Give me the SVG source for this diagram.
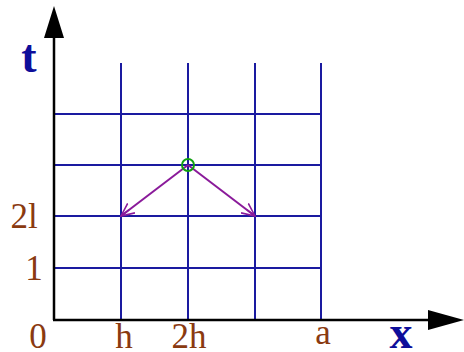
<svg xmlns="http://www.w3.org/2000/svg" width="464" height="352" viewBox="0 0 464 352">
<style>
.grid{stroke:#1a1aa0;stroke-width:2;fill:none}
.axis{stroke:#000;stroke-width:2.5;fill:none}
.arr{stroke:#8a1a9a;stroke-width:2;fill:none}
.lab{font-family:"Liberation Serif",serif;fill:#8a3a10;font-size:35px}
.var{font-family:"Liberation Serif",serif;fill:#0e0e9a;font-size:46px;font-weight:bold}
</style>
<defs>
<marker id="ah" viewBox="0 0 14 14" refX="13" refY="7" markerWidth="14" markerHeight="14" markerUnits="userSpaceOnUse" orient="auto">
<path d="M0,1 L13,7 L0,13 M13,7 L3,7" fill="none" stroke="#8a1a9a" stroke-width="1.6"/>
</marker>
</defs>
<g id="grid">
<line class="grid" x1="121" y1="63" x2="121" y2="320"/>
<line class="grid" x1="188" y1="63" x2="188" y2="320"/>
<line class="grid" x1="255" y1="63" x2="255" y2="320"/>
<line class="grid" x1="321" y1="63" x2="321" y2="320"/>
<line class="grid" x1="54" y1="114" x2="321" y2="114"/>
<line class="grid" x1="54" y1="165" x2="321" y2="165"/>
<line class="grid" x1="54" y1="216" x2="321" y2="216"/>
<line class="grid" x1="54" y1="268" x2="321" y2="268"/>
</g>
<g id="axes">
<line class="axis" x1="54" y1="320" x2="54" y2="34"/>
<polygon points="54,6 44,38 64,38" fill="#000"/>
<line class="axis" x1="53" y1="320" x2="432" y2="320"/>
<polygon points="464,320 428,310 428,330" fill="#000"/>
</g>
<g id="connectors">
<line class="arr" x1="188" y1="165" x2="121" y2="216" marker-end="url(#ah)"/>
<line class="arr" x1="188" y1="165" x2="255" y2="216" marker-end="url(#ah)"/>
</g>
<g id="node">
<circle cx="188" cy="165" r="6" fill="none" stroke="#10a010" stroke-width="2"/>
</g>
<g id="labels">
<text class="var" x="29" y="72" text-anchor="middle">t</text>
<text class="lab" x="24" y="228" text-anchor="middle">2l</text>
<text class="lab" x="34" y="280" text-anchor="middle">1</text>
<text class="lab" x="38" y="348" text-anchor="middle">0</text>
<text class="lab" x="124" y="348" text-anchor="middle">h</text>
<text class="lab" x="189" y="348" text-anchor="middle">2h</text>
<text class="lab" x="323" y="344" text-anchor="middle">a</text>
<text class="var" x="401" y="348" text-anchor="middle">x</text>
</g>
</svg>
